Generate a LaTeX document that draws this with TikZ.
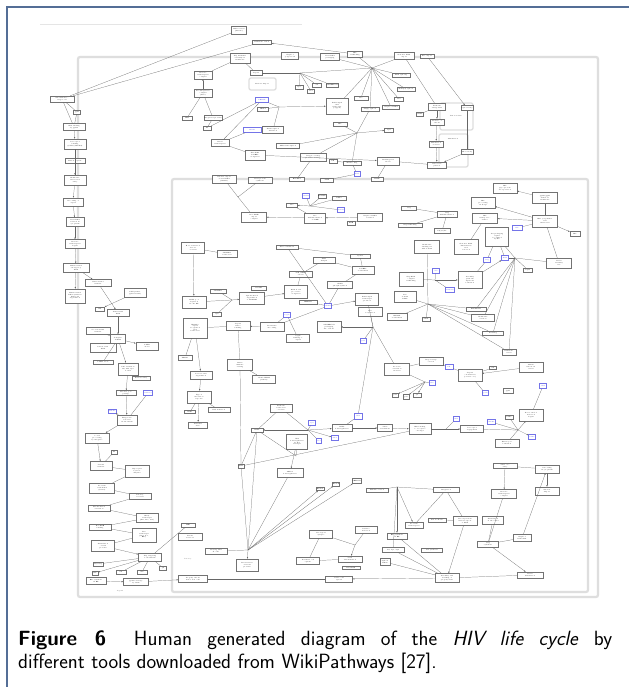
\documentclass[tikz,border=0pt]{standalone}
\usetikzlibrary{arrows.meta}
\definecolor{framecol}{RGB}{84,110,150}
\definecolor{grpcol}{RGB}{222,222,222}
\definecolor{genecol}{RGB}{70,70,225}
\newcommand{\tinyfont}{\fontsize{1.5}{1.7}\selectfont}
\newcommand{\capfont}{\sffamily\fontsize{20.6}{23}\selectfont}
\tikzset{
  box/.style 2 args={draw=black!55, line width=0.35pt, fill=white, inner sep=0.3pt,
    align=center, font=\tinyfont, minimum width=#1pt, minimum height=#2pt},
  gene/.style 2 args={box={#1}{#2}, draw=genecol!75, text=genecol},
  link/.style={draw=black!60, line width=0.22pt},
  arr/.style={link, -{Latex[length=1.7pt,width=1.3pt]}},
  grp/.style={draw=grpcol, line width=2.2pt, rounded corners=2pt},
  subgrp/.style={draw=grpcol, line width=1.3pt, rounded corners=2pt},
}

\begin{document}
\begin{tikzpicture}[x=1pt, y=-1pt]
\useasboundingbox (0,0) rectangle (629,687);
\fill[white] (0,0) rectangle (629,687);
\draw[framecol, line width=1.3pt] (7,687) -- (7,7) -- (629,7);

% pathway groups
\draw[black!10, line width=0.3pt] (40,24) -- (302,24);
\draw[grp] (78,57) rectangle (598,597);
\draw[grp] (172,179) rectangle (588,592);
\draw[subgrp] (249,78) rectangle (276,90);
\draw[subgrp] (440,103) rectangle (473,130);
\draw[subgrp] (439,134) rectangle (468,167);
\node[font=\tinyfont] (g0) at (262,84) {Nuclear import};
\node[font=\tinyfont] (g1) at (456,116) {Virion release};
\node[font=\tinyfont] (g2) at (453,139) {Maturation};

% top of the cycle
\node[box={15}{8}] (t1) at (239,30) {HIV-1 virion\\(mature)};
\node[box={19}{4}] (t2) at (262,42) {Immature virion};
\node[box={20}{10}] (t3) at (240,58) {Gag multimer\\assembly at\\membrane};
\node[box={17}{7}] (t4) at (290,56) {Gag-Pol\\polyprotein};
\node[box={19}{7}] (t5) at (330,57) {Viral RNA\\packaging};
\node[box={15}{6}] (t6) at (355,54) {Env\\trafficking};
\node[box={20}{7}] (t7) at (404,56) {Genomic RNA\\export};
\node[box={14}{4}] (t8) at (427,56) {Rev export};
\node[box={12}{5}] (t9) at (256,73) {Capsid};
\node[box={18}{8}] (t10) at (203,75) {Reverse\\transcription\\complex};
\node[box={18}{8}] (t11) at (203,93) {Pre-integration\\complex\\(PIC)};
\node[box={10}{4}] (t12) at (187,118) {LTR};
\node[box={18}{5}] (t13) at (213,118) {Integrated provirus};
\node[box={8}{4}] (t14) at (207,128) {IN};
\node[gene={13}{5}] (bl1) at (262,100) {LEDGF};
\node[box={11}{4}] (t15) at (263,109) {HRP-2};
\node[gene={18}{5}] (bl2) at (252,130) {NF-kB};
\node[box={21}{7}] (t16) at (273,130) {Transcription\\initiation};
\node[box={18}{7}] (t17) at (220,143) {Basal\\transcription};
\node[box={20}{10}] (t18) at (255,155) {Tat--TAR\\P-TEFb\\elongation};
\node[box={8}{4}] (t19) at (299,87) {Vpr};
\node[box={9}{4}] (t20) at (317,85) {Vif};
\node[box={12}{4}] (t21) at (332,85) {APOBEC3G};
\node[box={7}{4}] (t22) at (311,91) {Nef};
\node[box={18}{4}] (t23) at (401,75) {RNA splicing};
\node[box={18}{4}] (t24) at (406,89) {Multiply spliced};
\node[box={9}{4}] (t25) at (399,99) {Tat};
\node[box={14}{4}] (t26) at (361,98) {Rev};
\node[box={17}{4}] (t27) at (391,107) {Unspliced RNA};
\node[box={18}{4}] (t28) at (370,109) {Singly spliced};
\node[box={22}{16}] (t29) at (337,106) {Full-length\\viral\\transcript\\(capped)};
\node[box={14}{4}] (t30) at (340,124) {Env};
\node[box={9}{4}] (t31) at (389,130) {Vpu};
\node[box={23}{5}] (t32) at (288,146) {LTR transcription};
\node[box={26}{8}] (t33) at (313,157) {Gag processing\\protease cleavage};
\node[box={8}{4}] (t34) at (333,161) {PR};
\node[box={18}{4}] (t35) at (352,163) {Mature Gag};
\node[box={22}{8}] (t36) at (388,161) {Budding and\\release};
\node[gene={6}{5}] (bl3) at (357,174) {TSG};
\node[box={15}{4}] (t37) at (297,179) {ESCRT-I};
\node[box={13}{4}] (t38) at (327,180) {ALIX};
\node[box={12}{4}] (t39) at (377,179) {CHMP};
\node[box={24}{6}] (t40) at (260,180) {Viral protein\\synthesis};
\node[box={24}{8}] (t41) at (224,179) {Nuclear export\\of viral RNA\\(CRM1)};
\node[box={17}{7}] (t42) at (437,107) {Tetherin\\antagonism};
\node[box={7}{4}] (t43) at (420,114) {BST2};
\node[box={12}{5}] (t44) at (467,108) {Vpu activity};
\node[box={14}{6}] (t45) at (437,122) {Release of\\virions};
\node[box={14}{6}] (t46) at (436,144) {Maturation\\of virion};
\node[box={12}{5}] (t47) at (467,152) {PR activity};
\node[box={19}{6}] (t48) at (437,165) {Infectious\\particle};
\coordinate (h1) at (279,107);
\coordinate (h2) at (300,73);
\coordinate (h3) at (372,68);
\coordinate (h4) at (357,133);
\coordinate (hc2) at (238,197);

% left column: entry to assembly
\node[box={24}{6}] (l1) at (62,99) {Attachment to\\target cell};
\node[box={7}{4}] (l2) at (77,112) {gp41};
\node[box={22}{7}] (l3) at (74,127) {CD4 binding\\by gp120};
\node[box={22}{10}] (l4) at (75,144) {Coreceptor\\binding\\(CCR5/CXCR4)};
\node[box={20}{5}] (l5) at (75,161) {Fusion peptide};
\node[box={22}{10}] (l6) at (75,180) {Membrane\\fusion and\\entry};
\node[box={20}{8}] (l7) at (73,202) {Uncoating of\\capsid};
\node[box={18}{9}] (l8) at (75,222) {Viral RNA\\released in\\cytoplasm};
\node[box={20}{9}] (l9) at (75,244) {Reverse\\transcription\\begins};
\node[box={26}{9}] (l10) at (76,268) {Minus-strand\\strong-stop\\DNA};
\node[box={26}{7}] (l11) at (98,283) {First strand\\transfer};
\node[box={20}{14}] (l12) at (75,296) {Minus-strand\\DNA synthesis\\RNase H\\degradation};
\node[box={22}{9}] (l13) at (135,293) {PPT primer\\(plus-strand)};
\node[box={9}{4}] (l14) at (100,309) {RT};
\node[box={22}{7}] (l15) at (118,313) {Plus-strand\\DNA};
\node[box={24}{7}] (l16) at (98,331) {Second strand\\transfer};
\node[box={15}{9}] (l17) at (118,339) {Complete\\dsDNA};
\node[box={26}{9}] (l18) at (103,348) {Linear viral\\DNA};
\node[box={22}{8}] (l19) at (147,346) {2-LTR\\circles};
\node[box={20}{4}] (l20) at (103,362) {1-LTR circle};
\node[box={20}{12}] (l21) at (128,369) {PIC formation\\IN, MA, Vpr\\bound};
\node[box={18}{4}] (l22) at (141,378) {Nuclear entry};
\node[box={20}{5}] (l23) at (126,393) {Nuclear pore\\passage};
\node[gene={9}{5}] (lb1) at (148,393) {NUP153};
\node[gene={6}{4}] (lb2) at (112,411) {TNPO3};
\node[box={20}{10}] (l24) at (127,420) {Target site\\selection\\in chromatin};
\node[box={24}{10}] (l25) at (97,438) {3' end\\processing\\by integrase};
\node[box={6}{4}] (l26) at (114,452) {IN};
\node[box={22}{9}] (l27) at (101,466) {Strand\\transfer};
\node[box={24}{12}] (l28) at (137,471) {Gap repair\\by host\\enzymes};
\node[box={25}{10}] (l29) at (102,488) {Provirus\\established\\(latent)};
\node[box={22}{6}] (l30) at (140,496) {Latency\\reversal};
\node[box={22}{6}] (l31) at (99,508) {Tat-mediated\\activation};
\node[box={22}{9}] (l32) at (147,518) {Early\\transcripts\\(Tat, Rev, Nef)};
\node[box={22}{6}] (l33) at (100,527) {Rev-RRE\\binding};
\node[box={24}{14}] (l34) at (144,535) {Late\\transcripts\\(Gag, Pol,\\Env)};
\node[box={23}{11}] (l35) at (103,546) {Translation\\of viral\\proteins};
\node[box={23}{8}] (l36) at (150,557) {Gag targeting\\to membrane};
\node[box={10}{4}] (l37) at (98,564) {Myr-Gag};
\node[box={6}{4}] (l38) at (95,573) {MA};
\node[box={10}{4}] (l39) at (121,572) {CA};
\node[box={10}{4}] (l40) at (142,572) {NC};
\node[box={7}{4}] (l41) at (163,568) {p6};
\node[box={20}{7}] (l42) at (96,581) {Env synthesis\\in ER};
\node[box={25}{7}] (l43) at (136,582) {gp160 cleavage\\by furin};
\node[font=\tinyfont, text=black!70] (lg1) at (120,591) {Legend};

% inner pathway: host factors
\node[box={23}{11}] (m1) at (193,248) {Host restriction\\factors\\overview};
\node[box={20}{7}] (m2) at (227,254) {SAMHD1\\restriction};
\node[box={24}{12}] (m3) at (194,302) {dNTP pool\\depletion\\blocks RT};
\node[box={16}{4}] (m4) at (218,291) {SAMHD1};
\node[box={25}{12}] (m5) at (252,298) {Vpx-mediated\\degradation\\of SAMHD1};
\node[box={15}{4}] (m6) at (259,288) {DCAF1};
\node[box={9}{4}] (m7) at (217,314) {Vpx};
\node[box={24}{20}] (m8) at (195,328) {TRIM5a\\capsid\\recognition\\and\\restriction};
\node[box={24}{9}] (m9) at (238,326) {Capsid\\lattice\\binding};
\node[box={24}{9}] (m10) at (272,327) {Premature\\uncoating};
\node[gene={7}{5}] (mb1) at (287,315) {CypA};
\node[box={24}{11}] (m11) at (329,327) {APOBEC3G\\packaging\\into virions};
\node[box={23}{8}] (m12) at (298,338) {CypA\\binding to\\capsid};
\node[box={14}{5}] (m13) at (185,358) {TRIM5};
\node[box={22}{8}] (m14) at (201,375) {Proteasomal\\degradation};
\node[box={25}{11}] (m15) at (240,365) {Innate\\immune\\sensing};
\node[box={23}{8}] (m16) at (264,379) {cGAS--STING\\pathway};
\node[box={24}{12}] (m17) at (199,397) {Type I\\interferon\\response};
\node[box={11}{3}] (m18) at (190,412) {IRF3};
\node[box={22}{5}] (m19) at (219,410) {ISG induction};
\node[box={19}{6}] (m20) at (198,425) {Antiviral\\state};
\node[box={22}{8}] (m21) at (281,408) {Tetherin\\restriction\\of release};
\node[box={12}{4}] (m22) at (257,430) {BST2};
\node[gene={7}{5}] (mb2) at (312,423) {Vpu};
\node[box={20}{7}] (m23) at (342,428) {BST2\\downregulation};
\node[gene={5}{5}] (mb3) at (319,441) {Nef};
\node[gene={7}{5}] (mb4) at (335,438) {AP-1};
\node[gene={8}{6}] (mb5) at (358,416) {CD4};
\node[box={21}{15}] (m24) at (297,442) {CD4\\downregulation\\by Nef\\and Vpu};
\node[box={6}{4}] (m25) at (241,466) {MHC};
\node[box={26}{9}] (m26) at (290,473) {MHC-I\\downregulation};
\node[box={8}{3}] (m27) at (320,489) {HLA-A};
\node[box={6}{4}] (m28) at (336,484) {HLA-B};
\node[box={9}{5}] (m29) at (357,481) {SERINC5};
\node[box={22}{4}] (m30) at (377,490) {Immune evasion};
\node[box={14}{4}] (m31) at (188,525) {LEF};
\node[box={24}{7}] (m32) at (190,537) {Latent\\reservoir};
\node[font=\tinyfont, text=black!70] (lg2) at (188,559) {Latency};
\node[box={22}{6}] (m33) at (216,551) {Resting CD4\\T cells};
\node[box={22}{12}] (m34) at (247,565) {Reactivation\\of latent\\provirus};
\node[box={29}{7}] (m35) at (193,579) {Progeny virions\\infect new cells};
\node[box={27}{6}] (m36) at (339,579) {Cell-to-cell\\spread};
\node[box={23}{8}] (m37) at (321,534) {Virological\\synapse};
\node[box={22}{7}] (m38) at (366,530) {Cell-free\\infection};
\node[box={24}{6}] (m39) at (350,559) {Viral\\dissemination};
\node[box={23}{7}] (m40) at (308,561) {Dendritic cell\\capture};
\node[box={18}{3}] (m41) at (351,568) {DC-SIGN};
\coordinate (hm0) at (232,300);
\coordinate (hm1) at (248,550);
\coordinate (hm2) at (355,545);
\coordinate (hm5) at (308,430);
\coordinate (hm6) at (296,456);

% inner pathway: transcription and export
\node[box={25}{10}] (c1) at (254,217) {Rev--RRE\\export\\complex};
\node[gene={7}{5}] (cb1) at (306,196) {CRM1};
\node[box={7}{4}] (c2) at (322,196) {RanGTP};
\node[box={14}{4}] (c3) at (339,198) {DDX3};
\node[box={11}{4}] (c4) at (292,205) {Rev};
\node[gene={7}{5}] (cb2) at (341,210) {Sam68};
\node[box={21}{10}] (c5) at (315,218) {Rev\\multimerization\\on RRE};
\node[box={8}{4}] (c6) at (351,223) {RRE};
\node[box={25}{8}] (c7) at (370,217) {Unspliced RNA\\retained};
\node[box={22}{4}] (c8) at (287,247) {Tat recruitment};
\node[box={22}{6}] (c9) at (324,260) {TAR\\hairpin};
\node[box={20}{4}] (c10) at (360,256) {CycT1};
\node[box={22}{8}] (c11) at (363,270) {P-TEFb\\recruitment};
\node[box={23}{6}] (c12) at (301,274) {7SK snRNP\\release};
\node[box={25}{7}] (c13) at (340,285) {CDK9\\phosphorylation};
\node[box={23}{13}] (c14) at (296,292) {RNA Pol II\\processive\\elongation};
\node[box={18}{4}] (c15) at (308,302) {HEXIM1};
\node[gene={7}{5}] (cb3) at (328,306) {CDK9};
\node[box={23}{12}] (c16) at (367,299) {Full-length\\transcripts\\produced};
\node[box={24}{9}] (c17) at (370,312) {Tat\\acetylation};
\node[gene={6}{5}] (cb4) at (363,341) {p300};
\coordinate (hc1) at (373,327);
\coordinate (hc3) at (310,206);

% inner pathway: assembly, budding, new infection
\node[box={15}{4}] (r1) at (409,208) {Gag};
\node[box={24}{4}] (r2) at (410,225) {Gag trafficking};
\node[box={20}{6}] (r3) at (447,214) {Gag\\multimerization};
\node[box={16}{5}] (r4) at (442,231) {PI(4,5)P2};
\node[box={25}{13}] (r5) at (427,247) {Membrane\\binding via\\MA domain};
\node[box={24}{15}] (r6) at (466,247) {Genomic RNA\\dimerization\\and\\selection};
\node[box={23}{19}] (r6b) at (497,237) {Psi packaging\\signal\\recognized\\by NC};
\node[box={24}{10}] (r7) at (505,188) {Env\\glycoprotein\\incorporation};
\node[box={25}{11}] (r8) at (545,198) {gp120/gp41\\trimer at\\membrane};
\node[box={24}{11}] (r9) at (483,203) {Env\\processing\\in Golgi};
\node[box={25}{10}] (r10) at (485,218) {Env\\transport to\\surface};
\node[box={25}{12}] (r11) at (545,221) {Env cytoplasmic\\tail\\interaction};
\node[gene={10}{5}] (rb1) at (517,228) {MA};
\node[box={10}{5}] (r12) at (575,234) {Env};
\node[box={24}{17}] (r13) at (470,280) {Assembly\\platform\\lipid raft\\formation};
\node[box={24}{14}] (r14) at (411,279) {Gag-RNA\\complex\\trafficking};
\node[gene={7}{5}] (rb2) at (436,271) {NC};
\node[gene={7}{5}] (rb3) at (487,260) {Gag};
\node[gene={7}{5}] (rb4) at (505,258) {RNA};
\node[box={25}{10}] (r15) at (559,263) {Virion\\assembly\\site};
\node[box={9}{4}] (r16) at (528,270) {Lipid};
\node[gene={9}{5}] (rb5) at (450,290) {TSG101};
\node[box={22}{11}] (r17) at (405,297) {Late\\domain\\PTAP};
\node[box={20}{7}] (r18) at (397,317) {ESCRT\\recruitment};
\node[box={8}{4}] (r19) at (426,319) {VPS4};
\node[box={20}{4}] (r20) at (476,309) {ESCRT-III};
\node[box={23}{7}] (r21) at (483,318) {Membrane\\scission};
\node[box={21}{4}] (r22) at (493,333) {Budding};
\node[box={14}{6}] (r23) at (509,352) {Immature\\virion};
\node[box={25}{12}] (r24) at (397,369) {Protease\\activation\\in virion};
\node[box={24}{8}] (r25) at (431,361) {Gag cleavage\\cascade};
\node[gene={8}{5}] (rb6) at (449,367) {PR};
\node[box={24}{12}] (r26) at (470,375) {Capsid\\condensation\\(conical core)};
\node[box={7}{3}] (r27) at (493,368) {CA};
\node[box={24}{10}] (r28) at (531,367) {Mature\\infectious\\virion};
\node[gene={6}{5}] (rb7) at (432,383) {IP6};
\node[gene={7}{5}] (rb8) at (543,386) {CD4};
\node[box={6}{4}] (r29) at (395,395) {p24};
\node[box={6}{5}] (r30) at (406,397) {p17};
\node[box={8}{4}] (r31) at (417,395) {p7};
\node[gene={6}{5}] (rb9) at (485,393) {gp120};
\node[box={10}{5}] (r32) at (508,391) {gp41};
\node[box={8}{4}] (r33) at (509,417) {CCR5};
\node[box={24}{12}] (r34) at (531,415) {New round of\\infection\\begins};
\node[gene={6}{5}] (rb10) at (456,419) {CD4};
\node[gene={8}{5}] (rb11) at (491,422) {CXCR4};
\node[box={22}{11}] (r35) at (420,429) {Env binding\\to receptors\\on target};
\node[box={23}{7}] (r36) at (472,429) {Coreceptor\\engagement};
\node[box={15}{7}] (r37) at (385,428) {Virus\\attachment};
\node[gene={7}{5}] (rb12) at (532,437) {CCR5};
\node[box={24}{8}] (r38) at (507,443) {Fusion pore\\formation};
\node[box={24}{5}] (r39) at (505,466) {Viral core\\entry};
\node[box={24}{8}] (r40) at (547,469) {Uncoating\\in cytoplasm};
\node[box={25}{9}] (r41) at (504,494) {Reverse\\transcription\\complex};
\node[box={24}{8}] (r42) at (547,491) {Nuclear\\import};
\node[box={26}{5}] (r43) at (446,490) {Integration};
\node[box={18}{6}] (r45) at (414,525) {Provirus\\transcription};
\node[box={18}{4}] (r46) at (437,520) {Tat feedback};
\node[box={24}{9}] (r47) at (465,521) {Rev-dependent\\nuclear export\\of RNA};
\node[box={21}{8}] (r48) at (493,520) {Translation\\on ribosomes};
\node[box={18}{7}] (r49) at (522,538) {Gag-Pol\\frameshift};
\node[box={21}{6}] (r50) at (488,544) {Gag\\synthesis};
\node[box={20}{6}] (r51) at (397,536) {Env synthesis\\in ER};
\node[box={21}{4}] (r52) at (432,550) {Nef synthesis};
\node[box={22}{5}] (r53) at (393,550) {Vif, Vpr, Vpu};
\node[box={10}{7}] (r54) at (385,562) {Spliced\\RNAs};
\node[box={24}{9}] (r55) at (447,578) {Assembly and\\budding of\\progeny virus};
\node[box={26}{6}] (r56) at (530,575) {Virion\\maturation};
\coordinate (hr1) at (515,258);
\coordinate (hr2) at (428,304);
\coordinate (hr3) at (518,430);
\coordinate (hr4) at (397,487);
\coordinate (hr5) at (435,280);
\coordinate (hr6) at (425,382);
\coordinate (hr7) at (446,429);

% connectors, top
\begin{scope}[on background layer/.try]
\path (t1) edge[link] (l1) (t2) edge[link] (l1) (t6) edge[arr] (t2);
\path (t3) edge[link] (t10) edge[link] (t9) (t11) edge[arr] (t10);
\path (t11) edge[link] (t12) edge[link] (t13) (t14) edge[link] (t13);
\path (bl1) edge[link] (t14) edge[link] (t17) (bl2) edge[link] (t17) (t18) edge[link] (t17);
\path (h1) edge[link] (bl1) edge[link] (t15) edge[link] (t16) edge[arr] (t29);
\path (h2) edge[link] (t19) edge[link] (t20) edge[link] (t21) edge[link] (t22) edge[link] (t9) edge[link] (h3);
\path (h3) edge[link] (t5) edge[link] (t6) edge[link] (t7) edge[link] (t23) edge[link] (t24)
  edge[link] (t25) edge[link] (t26) edge[link] (t27) edge[link] (t28) edge[link] (t29);
\path (t8) edge[arr] (t44) (t7) edge[link] (t42) (t43) edge[link] (t42);
\path (t42) edge[arr] (t45) (t45) edge[arr] (t46) (t46) edge[arr] (t48) (t44) edge[link] (t47) (t47) edge[arr] (t48);
\path (h4) edge[link] (t32) edge[link] (t30) edge[link] (t28) edge[link] (t33) edge[link] (t35) edge[arr] (t31);
\path (t18) edge[arr] (t36) (t36) edge[link] (t48) (t33) edge[link] (t37) (t34) edge[link] (t35);
\path (t35) edge[link] (bl3) (t36) edge[link] (t39) (t38) edge[link] (bl3);
\path (hc2) edge[link] (t41) edge[link] (t40) edge[link] (c1);

% connectors, left column
\path (l1) edge[link] (l2) (l2) edge[link] (l3) (l1) edge[link] (l3);
\path (l3) edge[arr] (l4) (l4) edge[arr] (l6) (l5) edge[link] (l6) (l6) edge[arr] (l7);
\path (l7) edge[arr] (l8) (l8) edge[arr] (l9) (l9) edge[arr] (l10) (l10) edge[arr] (l12) (l10) edge[arr] (l11);
\path (l11) edge[arr] (l15) (l13) edge[arr] (l14) (l16) edge[link] (l17) (l15) edge[arr] (l17);
\path (l17) edge[link] (l18) edge[arr] (l19) edge[link] (l20) edge[arr] (l21);
\path (l21) edge[link] (l22) edge[arr] (l23) (l23) edge[arr] (l24) (lb1) edge[link] (l24) (l24) edge[arr] (lb2);
\path (l24) edge[arr] (l25) (l25) edge[arr] (l27) (l26) edge[link] (l27);
\path (l27) edge[link] (l28) (l28) edge[link] (l29) (l29) edge[link] (l30) (l30) edge[link] (l31);
\path (l31) edge[link] (l32) (l32) edge[link] (l33) (l33) edge[link] (l34) (l34) edge[link] (l35) (l35) edge[arr] (l36);
\path (l36) edge[link] (l37) edge[arr] (l38) edge[link] (l39) edge[link] (l40) edge[link] (l41) edge[link] (m31);
\path (l42) edge[arr] (l43) (l43) edge[arr] (m35) (m35) edge[link] (m36) (r55) edge[arr] (m36);

% connectors, host factors
\path (c5) edge[arr] (c1) (cb1) edge[link] (hc3) (c2) edge[link] (hc3) (c3) edge[link] (hc3) (cb2) edge[link] (hc3);
\path (hc3) edge[arr] (c4) (c4) edge[link] (c5) (c7) edge[arr] (c5) (c6) edge[link] (c7);
\path (c8) edge[link] (cb3) edge[link] (c10) (c9) edge[link] (c11) (c10) edge[link] (c11) (c11) edge[link] (c13);
\path (c13) edge[link] (cb3) (c14) edge[link] (c12) (cb3) edge[arr] (c16) (c15) edge[link] (cb3) (c12) edge[link] (c9);
\path (m1) edge[arr] (m3) (m2) edge[link] (m1) (m4) edge[link] (hm0) (m7) edge[link] (hm0) (m3) edge[link] (hm0) (hm0) edge[arr] (m5);
\path (m5) edge[arr] (c14) (m8) edge[link] (m9) (m10) edge[arr] (m9) (m10) edge[link] (cb3) (mb1) edge[link] (m12) (mb1) edge[link] (m10);
\path (hc1) edge[arr] (m11) edge[link] (c17) edge[link] (cb4) edge[link] (mb5) edge[link] (c16) edge[link] (r24);
\path (m8) edge[link] (m13) edge[arr] (m14) (m14) edge[arr] (m17) (m15) edge[link] (m16) (m9) edge[link] (m15);
\path (m17) edge[link] (m18) edge[link] (m19) edge[arr] (m20) (m15) edge[link] (m25);
\path (m21) edge[link] (hm5) edge[link] (m22) (mb2) edge[link] (hm5) (hm5) edge[arr] (m23) edge[arr] (mb4) edge[link] (mb3) edge[arr] (m22);
\path (mb5) edge[link] (m23) (m23) edge[arr] (r37) (m24) edge[link] (hm6) (hm6) edge[link] (m22) (m24) edge[arr] (m26);
\path (m25) edge[link] (r35) (m22) edge[link] (m25);
\path (hm1) edge[link] (m22) edge[link] (m26) edge[arr] (m27) edge[arr] (m28) edge[arr] (m29)
  edge[link] (m25) edge[link] (m33) edge[arr] (m34);
\path (m37) edge[link] (hm2) (m38) edge[link] (hm2) (hm2) edge[arr] (m39) (m40) edge[link] (m39) (m37) edge[link] (m40);

% connectors, assembly and new infection
\path (r8) edge[arr] (r7) (r11) edge[link] (r8) edge[arr] (r9) edge[arr] (r10) edge[arr] (r12) edge[link] (r15) (rb1) edge[link] (r11);
\path (r10) edge[link] (r6) (r1) edge[link] (r3) (r2) edge[link] (r3) (r4) edge[link] (r3) (r5) edge[link] (hr2);
\path (r14) edge[link] (hr5) (rb2) edge[link] (hr5) (rb5) edge[link] (hr5) (hr5) edge[arr] (r13);
\path (r13) edge[link] (rb3) edge[arr] (rb4) (rb4) edge[link] (r6b) (rb3) edge[link] (r6b);
\path (hr1) edge[link] (r15) edge[link] (r16) edge[link] (rb4) edge[link] (r20) edge[link] (r21) edge[link] (r22) edge[link] (r23) edge[link] (r6b);
\path (hr2) edge[link] (r18) edge[link] (r19) edge[link] (r20) edge[link] (r21) edge[link] (r22) edge[link] (r23) edge[link] (r17);
\path (r25) edge[link] (r24) edge[arr] (rb6) (r28) edge[arr] (r26) (rb6) edge[link] (r26) (r27) edge[link] (r26);
\path (r24) edge[link] (hr6) (hr6) edge[arr] (r29) edge[arr] (r30) edge[arr] (r31) edge[link] (rb7) (rb9) edge[link] (r26) (r34) edge[link] (rb8);
\path (r37) edge[arr] (r35) (r35) edge[link] (hr7) (hr7) edge[arr] (r36) (rb10) edge[link] (hr7);
\path (r36) edge[link] (hr3) (rb11) edge[link] (hr3) (r33) edge[link] (hr3) (hr3) edge[arr] (r34) edge[arr] (rb12) edge[link] (r38);
\path (r39) edge[link] (r40) (r39) edge[arr] (r41) (r40) edge[arr] (r42);
\path (hr4) edge[link] (m30) edge[link] (r43) edge[arr] (r45) edge[arr] (r51) edge[link] (r53);
\path (r43) edge[link] (r45) edge[link] (r47) (r47) edge[arr] (r55) (r46) edge[link] (r47);
\path (r48) edge[link] (r50) (r41) edge[link] (r50) (r50) edge[link] (r49) (r49) edge[arr] (r40) (r50) edge[arr] (r56);
\path (r55) edge[link] (r56) (r53) edge[link] (r55) (r51) edge[link] (r55) (r54) edge[link] (r55);
\end{scope}

% caption, first line set justified
\node[anchor=base west, font=\capfont, inner sep=0pt] (cap1) at (18,645)
  {\makebox[594pt][s]{\textbf{Figure 6}\hspace{0.6em} Human generated diagram of the \textit{HIV life cycle} by}};
\node[anchor=base west, font=\capfont, inner sep=0pt] (cap2) at (18,668)
  {different tools downloaded from WikiPathways [27].};
\end{tikzpicture}
\end{document}
